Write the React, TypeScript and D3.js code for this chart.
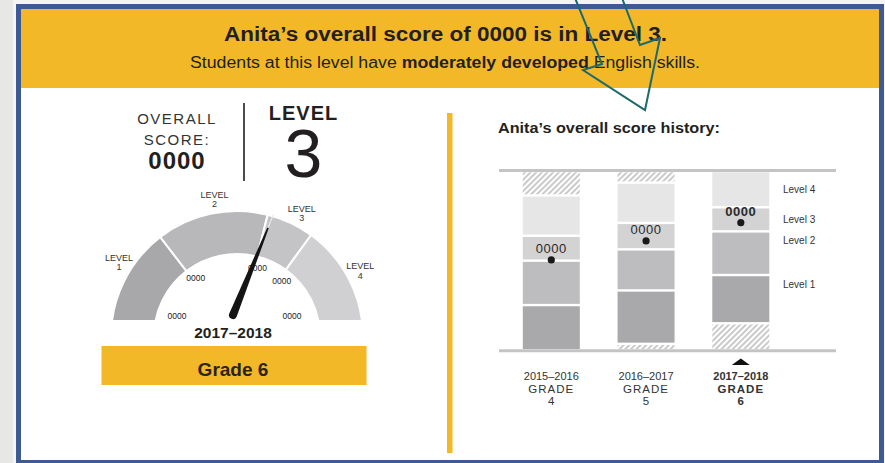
import React from 'react';
import * as d3 from 'd3';

// ---------- data ----------
const categories = ['2015–2016', '2016–2017', '2017–2018'];
const grades = ['4', '5', '6'];
const levelNames = ['Level 1', 'Level 2', 'Level 3', 'Level 4'];
// cut scores per year: [min, L1/L2, L2/L3, L3/L4, max]
const cutsGrade4 = [2100, 2277, 2450, 2547, 2704];
const cutsGrade5 = [2126, 2334, 2494, 2597, 2754];
const cutsGrade6 = [2206, 2394, 2564, 2658, 2800];
const studentScores = [2453, 2527, 2598];
const scoreLabels = ['0000', '0000', '0000'];
const scaleMin = 2100;
const scaleMax = 2800;

// gauge (current year)
const gaugeCuts = [2200, 2375, 2547, 2620, 2800];
const gaugeCutLabels = ['0000', '0000', '0000', '0000', '0000'];
const gaugeLevels = ['1', '2', '3', '4'];
const gaugeNeedle = 2573;
const currentYear = '2017–2018';
const currentGrade = 'Grade 6';
const overallScore = '0000';
const overallLevel = '3';

const FONT = "'Liberation Sans', Arial, Helvetica, sans-serif";
const YELLOW = '#f2b828';
const BLUE = '#3e5a92';
const TXT = '#231f20';
const barColors = ['#a9a9ab', '#bdbdbf', '#d3d3d4', '#e6e6e6'];
const gaugeColors = ['#a8a8aa', '#b8b8ba', '#c4c4c6', '#d0d0d2'];

export default function App() {
  // ---------- gauge ----------
  const gcx = 237, gcy = 337, gR = 126, gr = 83, gCutY = 320;
  const angle = d3.scaleLinear().domain([gaugeCuts[0], gaugeCuts[4]]).range([-90, 90]);
  const rad = (deg: number) => (deg * Math.PI) / 180;
  const arcGen = d3.arc<any>().innerRadius(gr).outerRadius(gR);
  const visMax = (Math.acos((gcy - gCutY) / gR) * 180) / Math.PI;
  const gaugeSegs = gaugeLevels.map((lv, i) => {
    const a0 = angle(gaugeCuts[i]);
    const a1 = angle(gaugeCuts[i + 1]);
    const m = (Math.max(a0, -visMax) + Math.min(a1, visMax)) / 2 + 2.5;
    return { lv, i, a0, a1, m };
  });
  const needleAng = angle(gaugeNeedle);
  const needleLen = 108;
  const px = gcx - 4, py = gCutY - 5;

  // ---------- bars ----------
  const allCuts = [cutsGrade4, cutsGrade5, cutsGrade6];
  const y = d3.scaleLinear().domain([scaleMin, scaleMax]).range([350.5, 170.8]);
  const x = d3.scalePoint<string>().domain(categories).range([551.3, 740.8]);
  const bw = 57;
  const gap = 1.2;

  const arrowPts: [number, number][] = [
    [575, -2], [602, 64], [583, 70], [645, 110], [660, 38], [640, 45], [622, -2],
  ];

  return (
    <svg width={885} height={463} style={{ position: 'absolute', left: 0, top: 0, display: 'block' }}
      fontFamily={FONT}>
      <defs>
        <pattern id="hatch" width="4" height="4" patternUnits="userSpaceOnUse" patternTransform="rotate(45)">
          <rect width="4" height="4" fill="#fff" />
          <line x1="1" y1="0" x2="1" y2="4" stroke="#b4b4b4" strokeWidth="1.4" />
        </pattern>
        <clipPath id="gclip">
          <rect x={0} y={0} width={885} height={gCutY} />
        </clipPath>
      </defs>

      {/* page & frame */}
      <rect x={0} y={0} width={885} height={463} fill="#f4f4f3" />
      <rect x={0} y={0} width={13} height={463} fill="#e7e7e5" />
      <rect x={18.5} y={6.5} width={863} height={456} fill="#fff" stroke={BLUE} strokeWidth={5} />
      <rect x={21} y={9} width={858} height={79} fill={YELLOW} />

      {/* header */}
      <text x={445.5} y={41} textAnchor="middle" fontSize={20} fontWeight="bold" fill={TXT}
        textLength={443} lengthAdjust="spacingAndGlyphs">
        Anita’s overall score of {overallScore} is in Level {overallLevel}.
      </text>
      <text x={445} y={68} textAnchor="middle" fontSize={16} fill={TXT}
        textLength={510} lengthAdjust="spacingAndGlyphs">
        Students at this level have <tspan fontWeight="bold">moderately developed</tspan> English skills.
      </text>

      {/* overall score / level */}
      <g fill={TXT}>
        <text x={177} y={124} textAnchor="middle" fontSize={15} letterSpacing={1.5} fill="#333">OVERALL</text>
        <text x={177} y={145} textAnchor="middle" fontSize={15} letterSpacing={1.5} fill="#333">SCORE:</text>
        <text x={177} y={169} textAnchor="middle" fontSize={24} fontWeight="bold" letterSpacing={1}>{overallScore}</text>
        <line x1={244} y1={103} x2={244} y2={181} stroke={TXT} strokeWidth={1.6} />
        <text x={303.5} y={120} textAnchor="middle" fontSize={20} fontWeight="bold" letterSpacing={1}>LEVEL</text>
        <text x={303.5} y={177} textAnchor="middle" fontSize={68}>{overallLevel}</text>
      </g>

      {/* gauge */}
      <g clipPath="url(#gclip)">
        {gaugeSegs.map((s) => (
          <path key={s.lv} transform={`translate(${gcx},${gcy})`}
            d={arcGen({ startAngle: rad(s.a0), endAngle: rad(s.a1) }) as string}
            fill={gaugeColors[s.i]} stroke="#fff" strokeWidth={2} />
        ))}
      </g>
      {gaugeSegs.map((s) => {
        const lx = gcx + 140 * Math.sin(rad(s.m));
        const ly = gcy - 140 * Math.cos(rad(s.m));
        return (
          <g key={'gl' + s.lv} fontSize={9} fill="#333" textAnchor="middle">
            <text x={lx} y={ly - 1}>LEVEL</text>
            <text x={lx} y={ly + 8.5}>{s.lv}</text>
          </g>
        );
      })}
      {gaugeCuts.map((c, i) => {
        const a = angle(c);
        let lx, ly;
        if (i === 0 || i === gaugeCuts.length - 1) {
          lx = gcx + (a < 0 ? -60 : 55);
          ly = gCutY - 1.5;
        } else {
          lx = gcx + 72 * Math.sin(rad(a + 2.5));
          ly = gcy - 72 * Math.cos(rad(a + 2.5)) + 3;
        }
        return (
          <text key={'gc' + i} x={lx} y={ly} textAnchor="middle" fontSize={8.5} fill="#222">
            {gaugeCutLabels[i]}
          </text>
        );
      })}
      <g transform={`translate(${px},${py}) rotate(${needleAng})`}>
        <path d={`M -4 0 L -0.8 ${-needleLen + 14} L 0.8 ${-needleLen + 14} L 4 0 A 4 4 0 0 1 -4 0 Z`} fill="#141414" />
        <line x1={0} y1={-needleLen + 14} x2={0} y2={-needleLen} stroke="#e8e8e8" strokeWidth={1.2} />
      </g>
      <text x={233} y={338} textAnchor="middle" fontSize={15.5} fontWeight="bold" fill={TXT}>{currentYear}</text>
      <rect x={101.5} y={346} width={265} height={39} fill={YELLOW} />
      <text x={233} y={375.5} textAnchor="middle" fontSize={19} fontWeight="bold" fill="#2a2418">{currentGrade}</text>

      {/* divider */}
      <rect x={447} y={113} width={5.5} height={340} fill={YELLOW} />

      {/* history chart */}
      <text x={498} y={133} fontSize={14.5} fontWeight="bold" fill={TXT}
        textLength={222} lengthAdjust="spacingAndGlyphs">Anita’s overall score history:</text>
      <line x1={499} x2={836} y1={y(scaleMax) - 0.3} y2={y(scaleMax) - 0.3} stroke="#c4c4c4" strokeWidth={3} />
      <line x1={499} x2={836} y1={y(scaleMin) + 0.3} y2={y(scaleMin) + 0.3} stroke="#c4c4c4" strokeWidth={3} />
      {categories.map((cat, ci) => {
        const cuts = allCuts[ci];
        const cx = x(cat) as number;
        const x0 = cx - bw / 2;
        const segs: { lo: number; hi: number; fill: string; key: string }[] = [];
        if (cuts[0] > scaleMin) segs.push({ lo: scaleMin, hi: cuts[0], fill: 'url(#hatch)', key: 'hb' });
        for (let k = 0; k < 4; k++) segs.push({ lo: cuts[k], hi: cuts[k + 1], fill: barColors[k], key: 'l' + k });
        if (cuts[4] < scaleMax) segs.push({ lo: cuts[4], hi: scaleMax, fill: 'url(#hatch)', key: 'ht' });
        const cur = ci === categories.length - 1;
        return (
          <g key={cat}>
            {segs.map((s) => {
              const top = y(s.hi) + (s.hi === scaleMax ? 1.5 : gap);
              const bot = y(s.lo) - (s.lo === scaleMin ? 1.5 : gap);
              return <rect key={s.key} x={x0} y={top} width={bw} height={bot - top} fill={s.fill} />;
            })}
            <circle cx={cx} cy={y(studentScores[ci])} r={3.6} fill="#1a1a1a" />
            <text x={cx} y={y(studentScores[ci]) - 7} textAnchor="middle" fontSize={13}
              fontWeight={cur ? 'bold' : 'normal'} fill="#2a2a2a" letterSpacing={0.5}>{scoreLabels[ci]}</text>
            <g textAnchor="middle" fill="#333" fontWeight={cur ? 'bold' : 'normal'}>
              <text x={cx} y={380} fontSize={11}>{cat}</text>
              <text x={cx} y={392.5} fontSize={11.5} letterSpacing={1}>GRADE</text>
              <text x={cx} y={405} fontSize={11.5}>{grades[ci]}</text>
            </g>
            {cur && (
              <path d={`M ${cx - 9} 365 L ${cx} 358.5 L ${cx + 9} 365 Z`} fill="#111" />
            )}
          </g>
        );
      })}
      {levelNames.map((ln, k) => {
        const c = cutsGrade6;
        const top = y(c[k + 1]);
        const bot = y(c[k]);
        const h = bot - top;
        const ly = h > 40 ? top + 13 : (top + bot) / 2 + 4;
        return (
          <text key={ln} x={783} y={ly} fontSize={10} fill="#333">{ln}</text>
        );
      })}

      {/* annotation arrow */}
      <polyline points={arrowPts.map((p) => p.join(',')).join(' ')} fill="none" stroke="#1c6a6c"
        strokeWidth={2} strokeLinejoin="miter" />
    </svg>
  );
}
